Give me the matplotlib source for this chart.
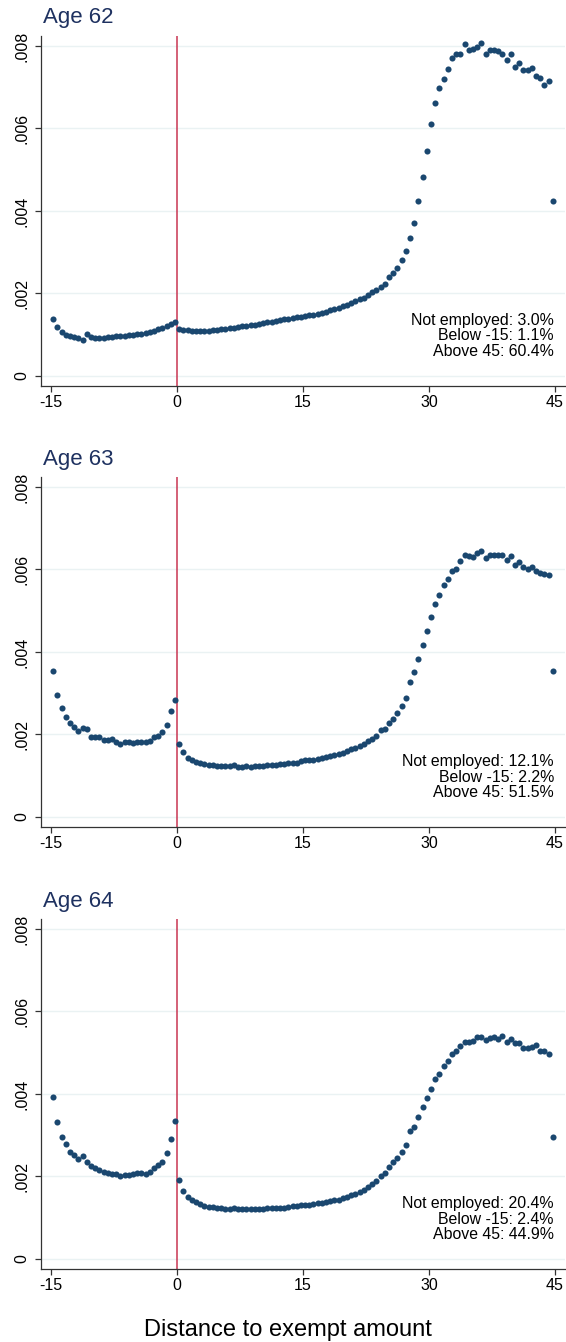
import numpy as np
import matplotlib.pyplot as plt

plt.rcParams['font.family'] = ['Liberation Sans', 'DejaVu Sans']

# bin centres: distance to exempt amount
bins = np.arange(-14.75, 45, 0.5)

ages = ["Age 62", "Age 63", "Age 64"]

share_62 = [
    0.00137, 0.00118, 0.00106, 0.00100, 0.00096, 0.00094, 0.00093, 0.00088,
    0.00102, 0.00094, 0.00092, 0.00091, 0.00092, 0.00094, 0.00095, 0.00096,
    0.00096, 0.00098, 0.00099, 0.00100, 0.00101, 0.00103, 0.00105, 0.00107,
    0.00110, 0.00113, 0.00117, 0.00122, 0.00127, 0.00132,
    0.00113, 0.00112, 0.00111, 0.00110, 0.00109, 0.00109, 0.00110, 0.00110,
    0.00111, 0.00112, 0.00113, 0.00114, 0.00116, 0.00117, 0.00118, 0.00120,
    0.00121, 0.00123, 0.00124, 0.00126, 0.00128, 0.00130, 0.00131, 0.00133,
    0.00135, 0.00137, 0.00138, 0.00140, 0.00142, 0.00143, 0.00145, 0.00147,
    0.00149, 0.00151, 0.00153, 0.00156, 0.00160, 0.00163, 0.00166, 0.00170,
    0.00173, 0.00177, 0.00181, 0.00186, 0.00190, 0.00197, 0.00203, 0.00208,
    0.00216, 0.00224, 0.00239, 0.00250, 0.00262, 0.00280, 0.00304, 0.00334,
    0.00370, 0.00423, 0.00483, 0.00546, 0.00610, 0.00662, 0.00697, 0.00720,
    0.00745, 0.00770, 0.00781, 0.00781, 0.00804, 0.00790, 0.00793, 0.00797,
    0.00808, 0.00781, 0.00791, 0.00791, 0.00788, 0.00781, 0.00766, 0.00781,
    0.00750, 0.00758, 0.00742, 0.00742, 0.00747, 0.00728, 0.00722, 0.00705,
    0.00716, 0.00425,
]

share_63 = [
    0.00354, 0.00296, 0.00263, 0.00243, 0.00229, 0.00219, 0.00209, 0.00215,
    0.00213, 0.00194, 0.00194, 0.00193, 0.00187, 0.00187, 0.00189, 0.00181,
    0.00178, 0.00181, 0.00183, 0.00179, 0.00181, 0.00181, 0.00182, 0.00184,
    0.00195, 0.00197, 0.00207, 0.00224, 0.00257, 0.00284,
    0.00177, 0.00158, 0.00144, 0.00139, 0.00134, 0.00130, 0.00128, 0.00127,
    0.00126, 0.00124, 0.00123, 0.00123, 0.00124, 0.00126, 0.00122, 0.00121,
    0.00123, 0.00122, 0.00123, 0.00123, 0.00124, 0.00126, 0.00127, 0.00127,
    0.00128, 0.00128, 0.00132, 0.00131, 0.00132, 0.00135, 0.00137,
    0.00138, 0.00139, 0.00141, 0.00143, 0.00145, 0.00147, 0.00150, 0.00153,
    0.00156, 0.00160, 0.00164, 0.00168, 0.00173, 0.00178, 0.00184, 0.00190,
    0.00196,
    0.00211, 0.00214, 0.00229, 0.00238, 0.00253, 0.00269, 0.00288, 0.00328,
    0.00351, 0.00383, 0.00417, 0.00450, 0.00485, 0.00516, 0.00537, 0.00562,
    0.00577, 0.00595, 0.00602, 0.00620, 0.00634, 0.00632, 0.00630, 0.00641,
    0.00645, 0.00628, 0.00636, 0.00636, 0.00636, 0.00636, 0.00622, 0.00632,
    0.00611, 0.00619, 0.00606, 0.00601, 0.00607, 0.00595, 0.00592, 0.00590,
    0.00587, 0.00353,
]

share_64 = [
    0.00393, 0.00331, 0.00296, 0.00278, 0.00260, 0.00251, 0.00243, 0.00250,
    0.00235, 0.00225, 0.00220, 0.00216, 0.00211, 0.00209, 0.00205, 0.00206,
    0.00200, 0.00203, 0.00203, 0.00205, 0.00209, 0.00208, 0.00206, 0.00212,
    0.00220, 0.00227, 0.00234, 0.00256, 0.00291, 0.00335,
    0.00192, 0.00165, 0.00151, 0.00143, 0.00137, 0.00133, 0.00128, 0.00126,
    0.00125, 0.00124, 0.00123, 0.00121, 0.00120, 0.00123, 0.00120, 0.00120,
    0.00120, 0.00120, 0.00122, 0.00121, 0.00122, 0.00124, 0.00123, 0.00124,
    0.00123, 0.00124, 0.00125, 0.00128, 0.00128, 0.00130, 0.00131,
    0.00132, 0.00133, 0.00135, 0.00136, 0.00138, 0.00140, 0.00142, 0.00144,
    0.00147, 0.00150, 0.00154, 0.00158, 0.00162, 0.00167, 0.00174, 0.00182,
    0.00190,
    0.00202, 0.00209, 0.00224, 0.00234, 0.00244, 0.00260, 0.00276, 0.00311,
    0.00321, 0.00345, 0.00369, 0.00391, 0.00411, 0.00436, 0.00448, 0.00468,
    0.00481, 0.00497, 0.00503, 0.00516, 0.00525, 0.00525, 0.00528, 0.00537,
    0.00539, 0.00531, 0.00535, 0.00539, 0.00533, 0.00541, 0.00525, 0.00533,
    0.00523, 0.00523, 0.00512, 0.00512, 0.00515, 0.00519, 0.00503, 0.00505,
    0.00497, 0.00296,
]

shares = [share_62, share_63, share_64]

notes = [
    ["Not employed: 3.0%", "Below -15: 1.1%", "Above 45: 60.4%"],
    ["Not employed: 12.1%", "Below -15: 2.2%", "Above 45: 51.5%"],
    ["Not employed: 20.4%", "Below -15: 2.4%", "Above 45: 44.9%"],
]

xticks = [-15, 0, 15, 30, 45]
yticks = [0, 0.002, 0.004, 0.006, 0.008]
ytick_labels = ["0", ".002", ".004", ".006", ".008"]

dot_col = '#1a476f'
line_col = '#c93552'
title_col = '#1e3160'

W, H = 566, 1342
fig = plt.figure(figsize=(W / 100, H / 100), dpi=100)
fig.patch.set_facecolor('white')

panel_tops = [36, 477, 919]
ax_h = 350
ax_l, ax_r = 41, 565

for i in range(3):
    top = panel_tops[i]
    ax = fig.add_axes([ax_l / W, (H - top - ax_h) / H, (ax_r - ax_l) / W, ax_h / H])

    for yt in yticks:
        ax.axhline(yt, color='#eaf2f3', lw=1.0, zorder=0)
    ax.axvline(0, color=line_col, lw=1.1, zorder=2)
    ax.plot(bins, shares[i], 'o', color=dot_col, markersize=4.4,
            markeredgewidth=0, zorder=3)

    ax.set_xlim(-16.2, 46.2)
    ax.set_ylim(-0.000242, 0.00824)
    ax.set_xticks(xticks)
    ax.set_xticklabels([str(t) for t in xticks])
    ax.set_yticks(yticks)
    ax.set_yticklabels(ytick_labels, rotation=90, va='center')

    for s in ['top', 'right']:
        ax.spines[s].set_visible(False)
    for s in ['left', 'bottom']:
        ax.spines[s].set_color('#333333')
        ax.spines[s].set_linewidth(0.9)
    ax.tick_params(axis='both', length=4.3, width=0.9, color='#333333',
                   labelsize=11.5, labelcolor='black')
    ax.tick_params(axis='x', pad=2)
    ax.tick_params(axis='y', pad=4)

    ax.text(0.004, 1 + 18 / ax_h, ages[i], transform=ax.transAxes,
            ha='left', va='center', fontsize=16, color=title_col)

    for j, line in enumerate(notes[i]):
        ax.text(0.979, (50 + 15.5 * (1 - j)) / ax_h, line, transform=ax.transAxes,
                ha='right', va='center', fontsize=11.4, color='black')

fig.text(288 / W, 12 / H, "Distance to exempt amount", ha='center', va='center',
         fontsize=17, color='black')

fig.savefig('out.png', dpi=100)
